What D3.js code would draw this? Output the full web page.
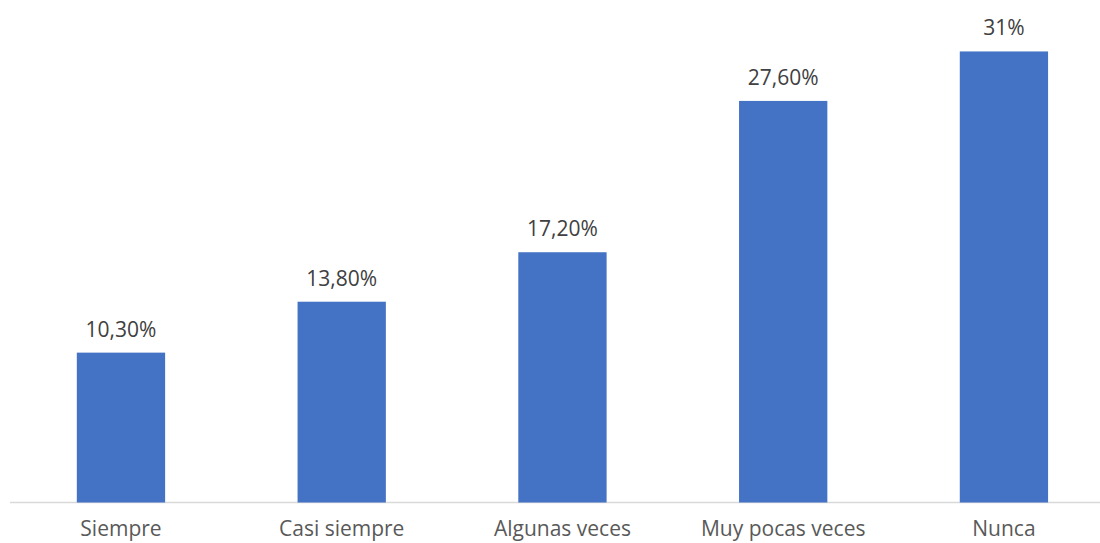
<!DOCTYPE html>
<html>
<head>
<meta charset="utf-8">
<script src="https://cdn.jsdelivr.net/npm/d3@7"></script>
<style>
  html, body { margin: 0; padding: 0; background: #fff; }
  svg { display: block; }
</style>
</head>
<body>
<svg id="chart" width="1100" height="543"></svg>
<script>
// Frequency categories and their share of responses (%)
const categories = ["Siempre", "Casi siempre", "Algunas veces", "Muy pocas veces", "Nunca"];
const values = [10.3, 13.8, 17.2, 27.6, 31];
const valueLabels = ["10,30%", "13,80%", "17,20%", "27,60%", "31%"];

const svg = d3.select("#chart");
const font = "'Open Sans', 'Noto Sans', sans-serif";

const x = d3.scaleBand()
  .domain(categories)
  .range([10.6, 1114.3])
  .paddingInner(0.6)
  .paddingOuter(0.3);

const y = d3.scaleLinear()
  .domain([0, 35])
  .range([502.5, 502.5 - 35 * 14.55]);

// Baseline
svg.append("line")
  .attr("x1", 10).attr("x2", 1100)
  .attr("y1", y(0)).attr("y2", y(0))
  .attr("stroke", "#d9d9d9")
  .attr("stroke-width", 1.5);

// Bars
svg.selectAll("rect.bar")
  .data(values)
  .join("rect")
  .attr("class", "bar")
  .attr("x", (d, i) => x(categories[i]))
  .attr("width", x.bandwidth())
  .attr("y", d => y(d))
  .attr("height", d => y(0) - y(d))
  .attr("fill", "#4472c4");

// Value labels above bars
svg.selectAll("text.value")
  .data(values)
  .join("text")
  .attr("class", "value")
  .attr("x", (d, i) => x(categories[i]) + x.bandwidth() / 2)
  .attr("y", d => y(d) - 16)
  .attr("text-anchor", "middle")
  .attr("font-family", font)
  .attr("font-size", "21px")
  .attr("fill", "#404040")
  .text((d, i) => valueLabels[i]);

// Category axis labels
svg.selectAll("text.cat")
  .data(categories)
  .join("text")
  .attr("class", "cat")
  .attr("x", d => x(d) + x.bandwidth() / 2)
  .attr("y", 536)
  .attr("text-anchor", "middle")
  .attr("font-family", font)
  .attr("font-size", "21px")
  .attr("fill", "#595959")
  .text(d => d);
</script>
</body>
</html>
